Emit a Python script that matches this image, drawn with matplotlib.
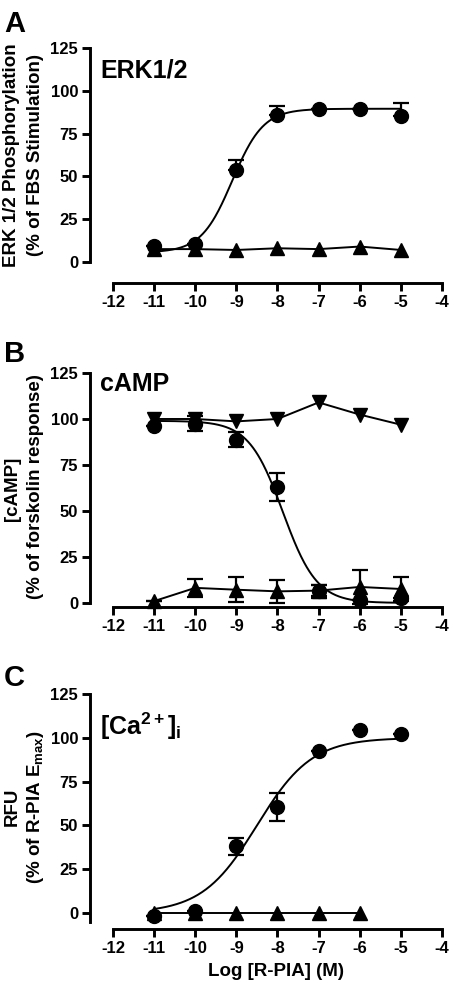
import numpy as np
import matplotlib.pyplot as plt

plt.rcParams['font.family'] = ['Liberation Sans', 'DejaVu Sans']
plt.rcParams['font.weight'] = 'bold'
plt.rcParams['mathtext.fontset'] = 'custom'
plt.rcParams['mathtext.rm'] = 'Liberation Sans:bold'
plt.rcParams['mathtext.it'] = 'Liberation Sans:bold'
plt.rcParams['mathtext.bf'] = 'Liberation Sans:bold'
plt.rcParams['mathtext.default'] = 'rm'

# log concentration of R-PIA
logx = np.array([-11, -10, -9, -8, -7, -6, -5])

# A: ERK1/2
erk_circle = [9.4, 10.4, 53.5, 85.8, 89.3, 89.3, 85.2]
erk_circle_err = [0, 0, 6, 5.5, 0, 0, 7.5]
erk_tri = [7.5, 7.5, 7, 8, 7.5, 9, 7]
erk_fit = (5.5, 89.5, -9.1, 1.15)   # bottom, top, logEC50, hill

# B: cAMP
camp_circle = [96.4, 97.5, 88.8, 62.9, 6.3, 1.8, 2.7]
camp_circle_err = [0, 4, 4, 7.6, 3.5, 0, 0]
camp_down = [100, 100, 98.7, 100, 109, 102.4, 96.9]
camp_up = [1, 8.2, 7.2, 6.3, 6.7, 8.7, 7.6]
camp_up_err = [0, 5, 6.8, 6.3, 3, 9.4, 6.5]
camp_fit = (0, 99, -7.87, -1.05)

# C: Ca2+
ca_circle = [-1.5, 1, 38, 60.5, 92.7, 104.3, 102.4]
ca_circle_err = [0, 0, 4.6, 8, 0, 0, 0]
ca_tri_x = logx[:6]
ca_tri = [0, 0, 0, 0, 0, 0]
ca_fit = (0, 100, -8.5, 0.65)

xticks = [-12, -11, -10, -9, -8, -7, -6, -5, -4]
yticks = [0, 25, 50, 75, 100, 125]


def hill(x, bottom, top, logec50, h):
    return bottom + (top - bottom) / (1 + 10 ** ((logec50 - x) * h))


W, H = 450, 982
fig = plt.figure(figsize=(W / 100, H / 100), dpi=100)


def make_ax(top_px, bot_px, ylo, spine_lo):
    ax = fig.add_axes([90 / W, 1 - bot_px / H, (444 - 90) / W, (bot_px - top_px) / H])
    ax.set_xlim(-12.56, -3.95)
    ax.set_ylim(ylo, 125)
    for s in ['top', 'right']:
        ax.spines[s].set_visible(False)
    ax.spines['left'].set_bounds(spine_lo, 125)
    ax.spines['bottom'].set_bounds(-12, -4)
    for s in ['left', 'bottom']:
        ax.spines[s].set_linewidth(2.1)
    ax.set_xticks(xticks)
    ax.set_yticks(yticks)
    ax.set_xticklabels([str(t) for t in xticks])
    ax.tick_params(width=2.1, length=5.5, labelsize=12, pad=3)
    ax.patch.set_visible(False)
    return ax


def fy(px):
    return 1 - px / H


xs = np.linspace(-11, -5, 300)
mk = dict(color='black', clip_on=False)
eb = dict(fmt='none', ecolor='black', elinewidth=1.6, capsize=6, capthick=1.6, clip_on=False)

# ---- A
ax = make_ax(48, 283, -12.3, 0)
ax.errorbar(logx, erk_circle, yerr=[np.zeros(7), erk_circle_err], **eb)
ax.plot(xs, hill(xs, *erk_fit), color='black', lw=1.4)
ax.plot(logx, erk_tri, marker='^', ms=10, lw=1.4, **mk)
ax.plot(logx, erk_circle, 'o', ms=10, **mk)
fig.text(100 / W, fy(77), 'ERK1/2', fontsize=18, fontweight='bold', va='baseline')
fig.text(4 / W, fy(32), 'A', fontsize=21, fontweight='bold', va='baseline')
fig.text(12 / W, fy(155), 'ERK 1/2 Phosphorylation', rotation=90, fontsize=13.5,
         ha='center', va='center')
fig.text(36 / W, fy(155), '(% of FBS Stimulation)', rotation=90, fontsize=13.5,
         ha='center', va='center')

# ---- B
ax = make_ax(373, 607, -2.2, 0)
ax.errorbar(logx, camp_circle, yerr=camp_circle_err, **eb)
ax.errorbar(logx, camp_up, yerr=camp_up_err, **eb)
ax.plot(xs, hill(xs, *camp_fit), color='black', lw=1.4)
ax.plot(logx, camp_down, marker='v', ms=10, lw=1.4, **mk)
ax.plot(logx, camp_up, marker='^', ms=10, lw=1.4, **mk)
ax.plot(logx, camp_circle, 'o', ms=10, **mk)
fig.text(100 / W, fy(391), 'cAMP', fontsize=18, fontweight='bold', va='baseline')
fig.text(4 / W, fy(362), 'B', fontsize=21, fontweight='bold', va='baseline')
fig.text(12 / W, fy(489), '[cAMP]', rotation=90, fontsize=13.5, ha='center', va='center')
fig.text(36 / W, fy(487), '(% of forskolin response)', rotation=90, fontsize=13.5,
         ha='center', va='center')

# ---- C
ax = make_ax(694, 929, -9.1, -5)
ax.errorbar(logx, ca_circle, yerr=ca_circle_err, **eb)
ax.plot(xs, hill(xs, *ca_fit), color='black', lw=1.4)
ax.plot(ca_tri_x, ca_tri, marker='^', ms=10, lw=1.4, **mk)
ax.plot(logx, ca_circle, 'o', ms=10, **mk)
fig.text(100 / W, fy(735), r'[Ca$^{2+}$]$_{i}$', fontsize=18, fontweight='bold', va='baseline')
fig.text(4 / W, fy(686), 'C', fontsize=21, fontweight='bold', va='baseline')
fig.text(12 / W, fy(807), 'RFU', rotation=90, fontsize=13.5, ha='center', va='center')
fig.text(36 / W, fy(807), r'(% of R-PIA E$_{max}$)', rotation=90, fontsize=13.5,
         ha='center', va='center')
fig.text(276 / W, fy(976), 'Log [R-PIA] (M)', fontsize=13.5, ha='center', va='baseline')

fig.savefig('out.png', dpi=100)
